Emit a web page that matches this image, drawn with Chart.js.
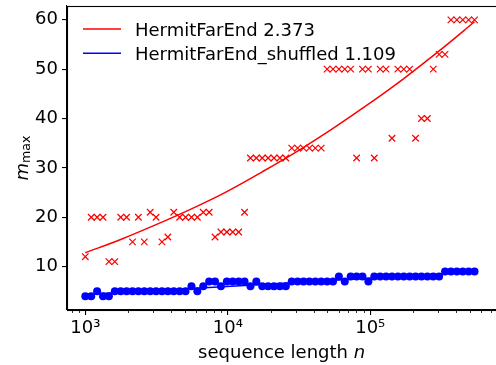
<!DOCTYPE html>
<html><head><meta charset="utf-8">
<script src="https://cdn.jsdelivr.net/npm/chart.js@4.4.1/dist/chart.umd.min.js"></script>
<style>
html,body{margin:0;padding:0;background:#fff;overflow:hidden;width:496px;height:365px}
#wrap{width:502px;height:365px;position:relative}
</style></head><body>
<div id="wrap"><canvas id="c" width="502" height="365"></canvas></div>
<script>
// ---- data ----
const seqLengths = [1000,1100,1210,1331,1464,1611,1772,1949,2144,2358,
  2594,2853,3138,3452,3797,4177,4595,5054,5560,6116,
  6727,7400,8140,8954,9850,10835,11918,13110,14421,15863,
  17449,19194,21114,23225,25548,28102,30913,34004,37404,41145,
  45259,49785,54764,60240,66264,72890,80180,88197,97017,106719,
  117391,129130,142043,156247,171872,189059,207965,228762,251638,276801,
  304482,334930,368423,405265,445792,490371,539408];
const hermitFarEnd = [12,20,20,20,11,11,20,20,15,20,
  15,21,20,15,16,21,20,20,20,20,
  21,21,16,17,17,17,17,21,32,32,
  32,32,32,32,32,34,34,34,34,34,
  34,50,50,50,50,50,32,50,50,32,
  50,50,36,50,50,50,36,40,40,50,
  53,53,60,60,60,60,60];
const hermitShuffled = [4,4,5,4,4,5,5,5,5,5,
  5,5,5,5,5,5,5,5,6,5,
  6,7,7,6,7,7,7,7,6,7,
  6,6,6,6,6,7,7,7,7,7,
  7,7,7,8,7,8,8,8,7,8,
  8,8,8,8,8,8,8,8,8,8,
  8,9,9,9,9,9,9];
const fitN = [1000,1772,3138,5560,9850,17449,30913,54764,97017,171872,304482,539408];
const fitFarEnd = [12.8,15.5,18.5,21.7,25.2,29.2,33.4,38.0,42.9,48.1,53.7,59.6];
const fitShuffled = [4.35,4.75,5.16,5.56,5.97,6.39,6.80,7.22,7.64,8.06,8.49,8.92];
const seriesLabels = ['HermitFarEnd 2.373','HermitFarEnd_shuffled 1.109'];
const seriesColors = ['#ff0000','#0000ff'];
const xMajorTicks = [1000,10000,100000];
const xTickLabels = ['10\u00B3','10\u2074','10\u2075'];
const xMinorTicks = [800,900,2000,3000,4000,5000,6000,7000,8000,9000,
  20000,30000,40000,50000,60000,70000,80000,90000,
  200000,300000,400000,500000,600000,700000];
const yTicks = [10,20,30,40,50,60];
const xTitle = ['sequence length ','n'];
const yTitle = ['m','max'];

const FONT = '"DejaVu Sans"';
const pts = (xs, ys) => xs.map((v,i)=>({x:v,y:ys[i]}));

const decor = {
  id:'decor',
  afterDraw(chart){
    const {ctx, chartArea:a, scales:{x}} = chart;
    ctx.save();
    // minor ticks
    ctx.strokeStyle='#000'; ctx.lineWidth=0.8;
    xMinorTicks.forEach(v=>{
      const px=Math.round(x.getPixelForValue(v))+0.5;
      ctx.beginPath(); ctx.moveTo(px,a.bottom); ctx.lineTo(px,a.bottom+3); ctx.stroke();
    });
    // frame
    ctx.lineWidth=1.1;
    ctx.strokeRect(a.left+0.5, a.top+0.5, a.right-a.left, a.bottom-a.top);
    ctx.fillStyle='#000';
    ctx.textBaseline='alphabetic';
    // x title
    ctx.font='18px '+FONT;
    const w1=ctx.measureText(xTitle[0]).width;
    ctx.font='italic 18px '+FONT;
    const w2=ctx.measureText(xTitle[1]).width;
    const cx=(a.left+a.right)/2;
    let sx=cx-(w1+w2)/2;
    ctx.font='18px '+FONT; ctx.textAlign='left';
    ctx.fillText(xTitle[0], sx, 357.5);
    ctx.font='italic 18px '+FONT;
    ctx.fillText(xTitle[1], sx+w1, 357.5);
    // y title
    ctx.save();
    ctx.translate(27.5,(a.top+a.bottom)/2);
    ctx.rotate(-Math.PI/2);
    ctx.font='italic 18px '+FONT;
    const m1=ctx.measureText(yTitle[0]).width;
    ctx.font='12.6px '+FONT;
    const m2=ctx.measureText(yTitle[1]).width;
    let yx=-(m1+m2)/2;
    ctx.font='italic 18px '+FONT;
    ctx.fillText(yTitle[0], yx, 0);
    ctx.font='12.6px '+FONT;
    ctx.fillText(yTitle[1], yx+m1, 2.5);
    ctx.restore();
    // legend
    ctx.font='18px '+FONT;
    seriesLabels.forEach((lab,i)=>{
      const ly=29+i*24.3;
      ctx.strokeStyle=seriesColors[i]; ctx.lineWidth=1.5;
      ctx.beginPath(); ctx.moveTo(83,ly); ctx.lineTo(121,ly); ctx.stroke();
      ctx.fillStyle='#000';
      ctx.fillText(lab, 135, ly+6.6);
    });
    ctx.restore();
  }
};

new Chart(document.getElementById('c'), {
  type:'scatter',
  data:{datasets:[
    {label:seriesLabels[0]+' data', data:pts(seqLengths,hermitFarEnd), pointStyle:'crossRot',
     pointRadius:4.6, pointBorderWidth:1.2, borderColor:seriesColors[0], backgroundColor:seriesColors[0], order:4},
    {label:seriesLabels[0], data:pts(fitN,fitFarEnd), showLine:true, pointRadius:0,
     borderColor:seriesColors[0], borderWidth:1.5, cubicInterpolationMode:'monotone', order:3},
    {label:seriesLabels[1]+' data', data:pts(seqLengths,hermitShuffled), pointStyle:'circle',
     pointRadius:4, pointBorderWidth:0, borderColor:seriesColors[1], backgroundColor:seriesColors[1], order:2},
    {label:seriesLabels[1], data:pts(fitN,fitShuffled), showLine:true, pointRadius:0,
     borderColor:seriesColors[1], borderWidth:1.5, cubicInterpolationMode:'monotone', order:1}
  ]},
  options:{
    responsive:false, animation:false, events:[],
    layout:{padding:{left:0,right:2,top:6,bottom:0}},
    plugins:{legend:{display:false}, tooltip:{enabled:false}},
    scales:{
      x:{type:'logarithmic', min:743.8, max:765600,
        afterBuildTicks:s=>{s.ticks=xMajorTicks.map(v=>({value:v}));},
        afterFit:s=>{s.height=55; s.paddingLeft=0; s.paddingRight=0; s.paddingTop=0; s.paddingBottom=0;},
        grid:{drawOnChartArea:false, drawTicks:true, tickLength:5, color:'#000', lineWidth:1.1},
        border:{display:true, color:'#000', width:1.1},
        ticks:{callback:(v,i)=>xTickLabels[i], autoSkip:false, maxRotation:0, minRotation:0,
          font:{family:FONT,size:18}, color:'#000', padding:3}
      },
      y:{type:'linear', min:1.2, max:62.8,
        afterBuildTicks:s=>{s.ticks=yTicks.map(v=>({value:v}));},
        afterFit:s=>{s.width=67; s.paddingTop=0; s.paddingBottom=0; s.paddingLeft=0; s.paddingRight=0;},
        grid:{drawOnChartArea:false, drawTicks:true, tickLength:5, color:'#000', lineWidth:1.1},
        border:{display:true, color:'#000', width:1.1},
        ticks:{callback:v=>String(v), font:{family:FONT,size:18}, color:'#000', padding:4}
      }
    }
  },
  plugins:[decor]
});
</script>
</body></html>
